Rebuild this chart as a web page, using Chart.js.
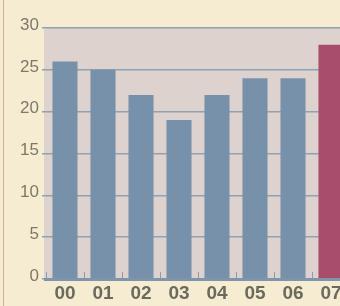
<!DOCTYPE html>
<html>
<head>
<meta charset="utf-8">
<script src="https://cdn.jsdelivr.net/npm/chart.js@4"></script>
<style>
  html, body { margin: 0; padding: 0; background: #f6ecd2; }
  #wrap { position: relative; width: 340px; height: 306px; overflow: hidden; }
  #edge { position: absolute; left: 3px; top: 0; width: 1px; height: 306px; background: #c9b295; }
  #box { position: absolute; left: 0; top: 0; width: 350px; height: 306px; }
</style>
</head>
<body>
<div id="wrap">
  <div id="box"><canvas id="chart"></canvas></div>
  <div id="edge"></div>
</div>
<script>
  // categorías y valores
  const years = ['00', '01', '02', '03', '04', '05', '06', '07'];
  const values = [26, 25, 22, 19, 22, 24, 24, 28];
  const yTicks = [0, 5, 10, 15, 20, 25, 30];

  const blue = '#7891aa';
  const red = '#a84d6c';
  const colors = years.map((y, i) => i === years.length - 1 ? red : blue);

  // fondo del área del gráfico y marcas pequeñas sobre el eje
  const plotBg = {
    id: 'plotBg',
    beforeDraw(chart) {
      const { ctx, chartArea } = chart;
      ctx.save();
      ctx.fillStyle = '#ddd2ce';
      ctx.fillRect(chartArea.left - 2, chartArea.top, chartArea.right - chartArea.left + 2, chartArea.bottom - chartArea.top);
      ctx.restore();
    },
    afterDatasetsDraw(chart) {
      const { ctx, chartArea } = chart;
      const x = chart.scales.x;
      const step = x.getPixelForValue(1) - x.getPixelForValue(0);
      ctx.save();
      ctx.strokeStyle = '#8a9db2';
      ctx.lineWidth = 1;
      years.forEach((y, i) => {
        const px = Math.round(x.getPixelForValue(i) - step / 2) + 0.5;
        ctx.beginPath();
        ctx.moveTo(px, chartArea.bottom - 1);
        ctx.lineTo(px, chartArea.bottom - 7);
        ctx.stroke();
      });
      ctx.fillStyle = '#7f95ad';
      ctx.fillRect(chartArea.left - 2, chartArea.bottom - 1, chartArea.right - chartArea.left + 2, 3);
      ctx.restore();
    }
  };

  new Chart(document.getElementById('chart'), {
    type: 'bar',
    data: {
      labels: years,
      datasets: [{
        data: values,
        backgroundColor: colors,
        borderWidth: 0,
        barPercentage: 0.66,
        categoryPercentage: 1
      }]
    },
    options: {
      responsive: true,
      maintainAspectRatio: false,
      animation: false,
      layout: { padding: { top: 28, right: 0, bottom: 0, left: 0 } },
      plugins: {
        legend: { display: false },
        tooltip: { enabled: false }
      },
      scales: {
        x: {
          grid: { display: false, drawTicks: false },
          border: { display: false },
          afterFit(scale) { scale.height = 27; },
          ticks: {
            color: '#6a6a5e',
            padding: 3,
            font: { family: 'Liberation Sans', size: 19, weight: 'bold' }
          }
        },
        y: {
          min: 0,
          max: 30,
          afterBuildTicks(scale) {
            scale.ticks = yTicks.map(v => ({ value: v }));
          },
          afterFit(scale) { scale.width = 46; },
          grid: {
            color: '#8ea1b5',
            lineWidth: 1.5,
            tickLength: 4
          },
          border: { display: false },
          ticks: {
            color: '#7d7868',
            padding: 3,
            labelOffset: -3,
            font: { family: 'Liberation Sans', size: 17 }
          }
        }
      }
    },
    plugins: [plotBg]
  });
</script>
</body>
</html>
